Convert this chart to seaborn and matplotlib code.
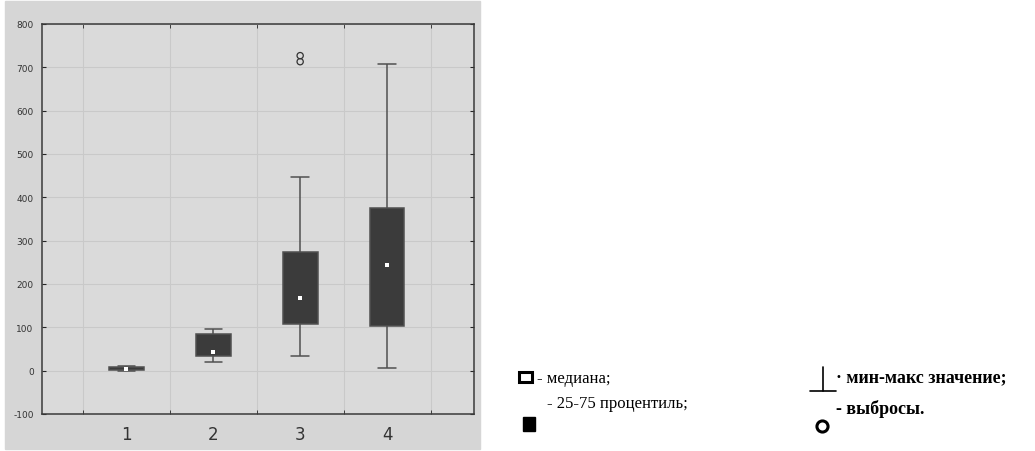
import matplotlib
matplotlib.use("Agg")
import matplotlib.pyplot as plt
from matplotlib.patches import Rectangle
from matplotlib.lines import Line2D
import pandas as pd
import seaborn as sns

# box plot summary
groups = ["1", "2", "3", "4"]
mins = [0, 21, 33, 6]
q1 = [2, 33, 108, 104]
medians = [3, 44, 168, 245]
q3 = [9, 85, 273, 375]
maxs = [11, 96, 446, 708]
outlier_groups = ["3", "3"]
outlier_vals = [713, 727]

legend_left = ["- медиана;", "- 25-75 процентиль;"]
legend_right = ["· мин-макс значение;", "- выбросы."]

W, H = 1035, 452


def fx(px):
    return px / W


def fy(py):
    return 1 - py / H


def main():
    rows = []
    for g, a, b, c, d, e in zip(groups, mins, q1, medians, q3, maxs):
        for v in (a, b, c, d, e):
            rows.append((g, v))
    df = pd.DataFrame(rows, columns=["group", "value"])

    sns.set_style("white")
    plt.rcParams["axes.unicode_minus"] = False
    fig = plt.figure(figsize=(W / 100, H / 100), dpi=100)
    fig.patches.append(Rectangle((fx(5), fy(450)), fx(475), 448 / H,
                                 transform=fig.transFigure, color="#d6d6d6", zorder=-5))

    ax = fig.add_axes([fx(42), fy(415), fx(432), 390 / H])
    ax.set_zorder(2)
    ax.set_facecolor("#dadada")

    sns.boxplot(data=df, x="group", y="value", order=groups, whis=(0, 100),
                width=0.4, color="#3b3b3b", linecolor="#505050", linewidth=1.1,
                medianprops=dict(visible=False), ax=ax)
    sns.stripplot(x=groups, y=medians, order=groups, jitter=False, marker="s",
                  color="white", size=3.5, linewidth=0, zorder=5, ax=ax)
    sns.stripplot(x=outlier_groups, y=outlier_vals, order=groups, jitter=False,
                  marker="o", color="#555555", facecolor="none", size=4.5,
                  linewidth=0.9, zorder=5, ax=ax)

    ax.set_xlim(-0.97, 4.0)
    ax.set_ylim(-100, 800)
    ax.set_yticks(range(-100, 801, 100))
    ax.set_xticks(range(4))
    ax.set_xticklabels(groups)
    ax.set_xticks([-0.5, 0.5, 1.5, 2.5, 3.5], minor=True)
    ax.set_xlabel("")
    ax.set_ylabel("")
    ax.grid(axis="y", which="major", color="#c9c9c9", linewidth=0.8)
    ax.grid(axis="x", which="minor", color="#c9c9c9", linewidth=0.8)
    ax.set_axisbelow(True)
    ax.tick_params(axis="y", direction="in", length=3, labelsize=6.5,
                   labelcolor="#333333", right=True, left=True, pad=6)
    ax.tick_params(axis="x", which="major", length=0, labelsize=12,
                   labelcolor="#333333", pad=8)
    ax.tick_params(axis="x", which="minor", direction="in", length=3,
                   top=True, bottom=True)
    for s in ax.spines.values():
        s.set_color("#3a3a3a")
        s.set_linewidth(1.1)

    # legend on the right
    serif = "Liberation Serif"
    fig.patches.append(Rectangle((fx(519), fy(383)), fx(13), 10 / H,
                                 transform=fig.transFigure, fill=False,
                                 edgecolor="black", linewidth=2.2))
    fig.patches.append(Rectangle((fx(523), fy(432)), fx(12), 14 / H,
                                 transform=fig.transFigure, color="black"))
    fig.text(fx(537), fy(379), legend_left[0], fontsize=12, family=serif,
             color="black", va="center", ha="left")
    fig.text(fx(547), fy(404), legend_left[1], fontsize=12, family=serif,
             color="black", va="center", ha="left")

    fig.add_artist(Line2D([fx(823), fx(823)], [fy(368), fy(392)],
                          transform=fig.transFigure, color="black", linewidth=1.2))
    fig.add_artist(Line2D([fx(810), fx(836)], [fy(392), fy(392)],
                          transform=fig.transFigure, color="black", linewidth=1.2))
    fig.text(fx(836), fy(378), legend_right[0], fontsize=13, family=serif,
             weight="bold", color="black", va="center", ha="left")
    fig.add_artist(Line2D([fx(822)], [fy(427)], transform=fig.transFigure,
                          marker="o", markersize=8, markerfacecolor="none",
                          markeredgecolor="black", markeredgewidth=2.2))
    fig.text(fx(836), fy(409), legend_right[1], fontsize=13, family=serif,
             weight="bold", color="black", va="center", ha="left")

    fig.savefig("out.png", dpi=100)


if __name__ == "__main__":
    main()
